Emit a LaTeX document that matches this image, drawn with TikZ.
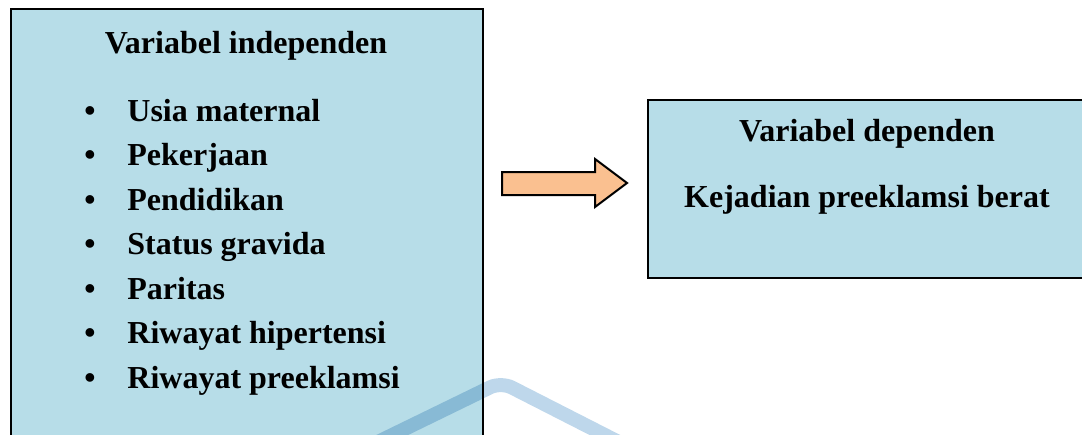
\documentclass[tikz,border=0pt]{standalone}
\usepackage{fontspec}
\setmainfont{Liberation Serif}

\begin{document}
\begin{tikzpicture}[x=0.5pt, y=-0.5pt, font=\fontsize{16pt}{19pt}\selectfont\bfseries,
    varbox/.style={draw=black, line width=0.9pt, fill=cBox, anchor=north west, inner sep=0pt},
    item/.style={anchor=base west, inner sep=0pt},
    dot/.style={anchor=base, inner sep=0pt}]
\definecolor{cBox}{RGB}{183,221,232}
\definecolor{cArrow}{RGB}{250,192,144}
\definecolor{cMark}{RGB}{190,215,235}
\useasboundingbox (0,0) rectangle (1082,434);

\node[varbox, minimum width=236pt, minimum height=225pt] (indep) at (10,8) {};
\node[varbox, line width=1pt, minimum width=220pt, minimum height=89pt] (dep) at (647,99) {};

\node[anchor=base, inner sep=0pt] (indeptitle) at (246,53) {Variabel independen};
\foreach \i/\name in {0/Usia maternal, 1/Pekerjaan, 2/Pendidikan, 3/Status gravida,
    4/Paritas, 5/Riwayat hipertensi, 6/Riwayat preeklamsi}{
    \pgfmathsetmacro{\yb}{121+\i*44.5}
    \node[dot] (dot\i) at (90,\yb) {•};
    \node[item] (item\i) at (127,\yb) {\name};
}

\node[anchor=base, inner sep=0pt] (deptitle) at (867,141) {Variabel dependen};
\node[anchor=base, inner sep=0pt] (depitem) at (867,207) {Kejadian preeklamsi berat};

\draw[line width=1pt, fill=cArrow, line join=miter]
    (502,172) -- (595,172) -- (595,159) -- (627,183) -- (595,207) -- (595,195) -- (502,195) -- cycle;

\begin{scope}[blend mode=multiply]
\draw[cMark, line width=7pt, rounded corners=6pt] (345,458) -- (501,382) -- (650,458);
\end{scope}
\end{tikzpicture}
\end{document}
